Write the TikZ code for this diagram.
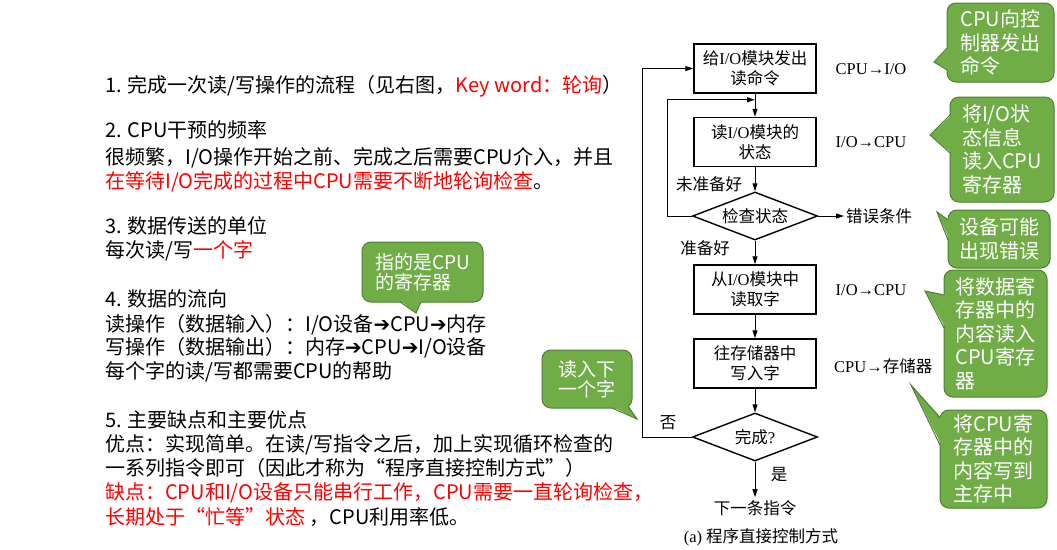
\documentclass[tikz,border=0pt]{standalone}
\usepackage{fontspec}
\setmainfont{Liberation Serif}
\newfontfamily\cjk{Noto Sans CJK SC}
\newfontfamily\dejavu{DejaVu Sans}
\usetikzlibrary{shapes.geometric,arrows.meta,calc}
\definecolor{cgreen}{HTML}{70AD47}
\definecolor{cborder}{HTML}{507E32}
\definecolor{tred}{HTML}{FF0000}
\newcommand\ctail[4]{\fill[cgreen] ($#1+#4$) -- #3 -- ($#2+#4$) -- cycle;
  \draw[cborder,line width=1pt,line join=miter] #1 -- #3 -- #2;}
\newcommand\rar{{\dejavu ➔}}
\begin{document}
\begin{tikzpicture}[x=1pt,y=-1pt,
  ltxt/.style={anchor=base west, inner sep=0, font=\cjk\fontsize{20}{24}\selectfont},
  fbox/.style={draw, line width=1.5pt, minimum width=122pt, minimum height=49pt, inner sep=0, align=center, font=\fontsize{16.5}{20}\selectfont},
  dia/.style={draw, diamond, line width=1.4pt, minimum width=125pt, minimum height=48pt, inner sep=0, aspect=2.6, font=\fontsize{16.5}{20}\selectfont},
  flbl/.style={inner sep=0, font=\fontsize{16.5}{20}\selectfont},
  conn/.style={line width=0.9pt, -{Triangle[length=8pt,width=5pt]}},
  callout/.style={draw=cborder, fill=cgreen, line width=1pt, rounded corners=9pt, text=white, align=left, inner sep=0, font=\cjk\fontsize{20}{23.5}\selectfont},
  callouts/.style={callout, font=\cjk\fontsize{19}{20}\selectfont}]
\useasboundingbox (0,0) rectangle (1057,549);

% ---------- left text ----------
\node[ltxt] (t1) at (105,92.8) {1. 完成一次读/写操作的流程（见右图，\textcolor{tred}{Key word：轮询}）};
\node[ltxt] (t2) at (105,137.8) {2. CPU干预的频率};
\node[ltxt] (t3) at (105,164.8) {很频繁，I/O操作开始之前、完成之后需要CPU介入，并且};
\node[ltxt] (t4) at (105,188.8) {\textcolor{tred}{在等待I/O完成的过程中CPU需要不断地轮询检查}。};
\node[ltxt] (t5) at (105,233.8) {3. 数据传送的单位};
\node[ltxt] (t6) at (105,257.8) {每次读/写\textcolor{tred}{一个字}};
\node[ltxt] (t7) at (105,306.8) {4. 数据的流向};
\node[ltxt] (t8) at (105,331.8) {读操作（数据输入）：I/O设备\rar CPU\rar 内存};
\node[ltxt] (t9) at (105,354.8) {写操作（数据输出）：内存\rar CPU\rar I/O设备};
\node[ltxt] (t10) at (105,378.8) {每个字的读/写都需要CPU的帮助};
\node[ltxt] (t11) at (105,427.8) {5. 主要缺点和主要优点};
\node[ltxt] (t12) at (105,451.8) {优点：实现简单。在读/写指令之后，加上实现循环检查的};
\node[ltxt] (t13) at (105,475.8) {一系列指令即可（因此才称为“程序直接控制方式”）};
\node[ltxt] (t14) at (105,499.8) {\textcolor{tred}{缺点：CPU和I/O设备只能串行工作，CPU需要一直轮询检查，}};
\node[ltxt] (t15) at (105,524.8) {\textcolor{tred}{长期处于“忙等”状态} ，CPU利用率低。};

% ---------- flowchart ----------
\node[fbox] (b1) at (755,68.5) {{\cjk 给}I/O{\cjk 模块发出}\\{\cjk 读命令}};
\node[fbox] (b2) at (755,142) {{\cjk 读}I/O{\cjk 模块的}\\{\cjk 状态}};
\node[dia] (d1) at (755,216) {\cjk 检查状态};
\node[fbox] (b3) at (755,289.5) {{\cjk 从}I/O{\cjk 模块中}\\{\cjk 读取字}};
\node[fbox] (b4) at (755,363.5) {{\cjk 往存储器中}\\{\cjk 写入字}};
\node[dia] (d2) at (755,437) {{\cjk 完成}?};
\node[flbl] (nx) at (755,508) {\cjk 下一条指令};
\node[flbl] (cap) at (761,537) {(a) {\cjk 程序直接控制方式}};

\node[flbl] (s1) at (871,69) {CPU→I/O};
\node[flbl] (s2) at (871,142) {I/O→CPU};
\node[flbl] (s3) at (871,290) {I/O→CPU};
\node[flbl,anchor=west] (s4) at (834,366) {CPU→{\cjk 存储器}};
\node[flbl,anchor=west] (err) at (846,216) {\cjk 错误条件};
\node[flbl] (nr) at (709,184) {\cjk 未准备好};
\node[flbl] (rd) at (705,248) {\cjk 准备好};
\node[flbl] (no) at (668,423) {\cjk 否};
\node[flbl] (yes) at (779,475) {\cjk 是};

\coordinate (m1) at ($(b1.south)+(0,6)$);
\coordinate (lp1) at ($(d1.west)+(-24,0)$);
\coordinate (lp2) at ($(d2.west)+(-49,0)$);
\draw[conn] (b1.south) -- (b2.north);
\draw[conn] (d1.west) -- (lp1) |- (m1);
\draw[conn] (b2.south) -- (d1.north);
\draw[conn, shorten >=2pt] (d1.east) -- (err.west);
\draw[conn] (d1.south) -- (b3.north);
\draw[conn] (b3.south) -- (b4.north);
\draw[conn] (b4.south) -- (d2.north);
\draw[conn] (d2.west) -- (lp2) |- (b1.west);
\draw[conn, shorten >=3pt] (d2.south) -- (nx.north);

% ---------- callouts ----------
\node[callout, minimum width=107, minimum height=79] (c1) at (1000.5,42.5) {CPU向控\\制器发出\\命令};
\ctail{(947,48)}{(947,70)}{(934,62)}{(1.5,0)}
\node[callout, minimum width=104, minimum height=105] (c2) at (1002,149.5) {将I/O状\\态信息\\读入CPU\\寄存器};
\ctail{(950,115)}{(950,153)}{(930,135)}{(1.5,0)}
\node[callout, minimum width=102, minimum height=58] (c3) at (999,239) {设备可能\\出现错误};
\ctail{(948,220)}{(948,240)}{(937,212)}{(1.5,0)}
\node[callout, minimum width=103, minimum height=127] (c4) at (995.5,333.5) {将数据寄\\存器中的\\内容读入\\CPU寄存\\器};
\ctail{(944,295)}{(944,328)}{(925,291)}{(1.5,0)}
\node[callout, minimum width=107, minimum height=98] (c5) at (993.5,459) {将CPU寄\\存器中的\\内容写到\\主存中};
\ctail{(940,418)}{(940,445)}{(911,385)}{(1.5,0)}
\node[callouts, minimum width=121, minimum height=60] (c6) at (422.5,272) {指的是CPU\\的寄存器};
\ctail{(400,302)}{(421,302)}{(416,313)}{(0,-1.5)}
\node[callouts, minimum width=90, minimum height=58] (c7) at (587,379) {读入下\\一个字};
\ctail{(612,408)}{(628,406.5)}{(637,419)}{(0,-1.5)}
\end{tikzpicture}
\end{document}
